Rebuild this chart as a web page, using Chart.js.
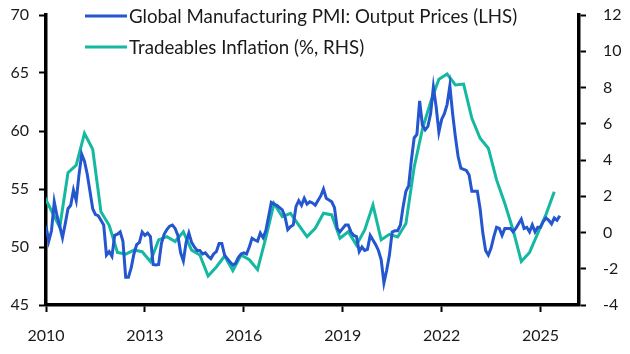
<!DOCTYPE html>
<html>
<head>
<meta charset="utf-8">
<script src="https://cdn.jsdelivr.net/npm/chart.js@4.4.1/dist/chart.umd.min.js"></script>
<style>
  html, body { margin: 0; padding: 0; background: #ffffff; }
  #wrap { width: 630px; height: 354px; position: relative; }
</style>
</head>
<body>
<div id="wrap"><canvas id="c" width="630" height="354"></canvas></div>
<script>
// ---- Data ----
const pmiLabel = "Global Manufacturing PMI: Output Prices (LHS)";
const tradeablesLabel = "Tradeables Inflation (%, RHS)";
// Monthly, starting Jan 2010
const pmiStart = 2010;
const pmiOutputPrices = [
  51.8, 50.5, 51.4, 53.9, 52.7, 51.8, 50.8, 52.0, 53.3, 53.6, 54.9, 54.0,
  56.2, 58.0, 57.4, 56.3, 54.8, 53.3, 52.8, 52.7, 52.3, 51.9, 49.3, 49.6,
  49.2, 51.0, 51.1, 51.3, 50.5, 47.4, 47.4, 48.2, 49.4, 50.2, 50.4, 51.3,
  51.0, 51.2, 50.9, 48.5, 48.45, 48.5, 50.3, 51.1, 51.5, 51.8, 51.9, 51.6,
  51.0, 49.5, 48.8, 50.4, 51.2, 50.4, 50.0, 49.7, 49.7, 49.4, 49.5, 49.2,
  49.0, 49.4, 49.6, 50.3, 50.3, 49.3, 49.0, 48.7, 48.45, 48.6, 49.1, 49.4,
  49.5, 49.4, 50.0, 50.75, 50.6, 50.5, 51.2, 50.8, 51.4, 52.6, 53.85, 53.7,
  53.6, 53.4, 53.2, 52.6, 51.5, 51.75, 51.9, 53.5, 54.0, 53.6, 54.2, 53.7,
  53.9, 53.8, 53.6, 54.0, 54.4, 55.0, 54.2, 54.05, 53.9, 53.4, 51.6, 51.3,
  51.6, 51.9, 51.9, 51.3, 51.0, 50.9, 49.6, 50.0, 49.7, 49.8, 51.0, 50.6,
  50.2, 49.7, 48.9, 46.9, 48.0, 49.3, 51.3, 51.4, 51.4, 51.9, 53.5, 54.8,
  55.3, 57.5, 59.4, 59.7, 62.6, 60.5, 60.1, 60.4, 61.5, 63.8, 62.1, 59.9,
  61.0, 61.5, 62.3, 63.9, 61.5, 59.5, 57.8, 56.8, 56.7, 56.6, 56.2, 54.8,
  54.8, 54.8, 53.3, 51.2, 49.7, 49.3, 49.9, 50.9, 51.7, 51.6, 51.0, 51.6,
  51.6, 51.6, 51.3, 51.6, 52.0, 52.4, 51.6, 51.7, 51.3, 51.9, 51.3, 51.7,
  51.7, 52.2, 52.5, 52.3, 52.0, 52.5, 52.3, 52.7
];
// Quarterly, first point at Nov 2009
const tradeablesStart = 2009 + 11 / 12;
const tradeablesInflation = [
  2.1, 1.2, 0.29, 3.3, 3.72, 5.47, 4.59, 1.15, 0.4, -1.1,
  -1.19, -0.97, -1.06, -1.6, -0.41, -0.23, -0.5, 0.04, -0.97, -1.24,
  -2.4, -1.9, -1.3, -2.1, -1.24, -1.5, -2.05, -0.3, 1.6, 0.87,
  1.06, 0.41, -0.23, 0.23, 1.06, 0.97, -0.32, 0.04, -0.69, 0.14,
  1.52, -0.4, -0.1, -0.25, 0.5, 3.6, 5.7, 7.2, 8.45, 8.74,
  8.14, 8.19, 6.3, 5.2, 4.65, 2.9, 1.6, 0.14, -1.6, -1.1,
  -0.04, 1.0, 2.25
];
const xTickYears = [2010, 2013, 2016, 2019, 2022, 2025];
const leftTicks = [45, 50, 55, 60, 65, 70];
const rightTicks = [-4, -2, 0, 2, 4, 6, 8, 10, 12];

// ---- Build points ----
const pmiPoints = pmiOutputPrices.map((v, i) => ({ x: pmiStart + i / 12, y: v }));
const tradeablesPoints = tradeablesInflation.map((v, i) => ({ x: tradeablesStart + i / 4, y: v }));

const BLUE = '#2356CF';
const TEAL = '#15B8A0';
const FONT = 'Lato, "Open Sans", sans-serif';

const legendPlugin = {
  id: 'insideLegend',
  afterDraw(chart) {
    const ctx = chart.ctx;
    const rows = [
      { y: 16, color: BLUE, text: chart.data.datasets[0].label },
      { y: 47, color: TEAL, text: chart.data.datasets[1].label }
    ];
    ctx.save();
    rows.forEach(r => {
      ctx.strokeStyle = r.color;
      ctx.lineWidth = 3;
      ctx.beginPath();
      ctx.moveTo(85, r.y);
      ctx.lineTo(127, r.y);
      ctx.stroke();
      ctx.fillStyle = '#1a1a1a';
      ctx.font = '18.7px ' + FONT;
      ctx.textBaseline = 'middle';
      ctx.textAlign = 'left';
      ctx.fillText(r.text, 129, r.y + 1);
    });
    ctx.restore();
  }
};

function fixVertical(width) {
  return s => { s.width = width; s.paddingTop = 0; s.paddingBottom = 0; };
}

new Chart(document.getElementById('c'), {
  type: 'line',
  data: {
    datasets: [
      {
        label: pmiLabel,
        data: pmiPoints,
        borderColor: BLUE,
        backgroundColor: BLUE,
        borderWidth: 3,
        pointRadius: 0,
        tension: 0,
        yAxisID: 'y',
        clip: { left: 0, top: 5, right: 5, bottom: 5 }
      },
      {
        label: tradeablesLabel,
        data: tradeablesPoints,
        borderColor: TEAL,
        backgroundColor: TEAL,
        borderWidth: 3,
        pointRadius: 0,
        tension: 0,
        yAxisID: 'y1',
        clip: { left: 0, top: 5, right: 5, bottom: 5 }
      }
    ]
  },
  options: {
    responsive: false,
    animation: false,
    devicePixelRatio: 1,
    layout: { padding: { top: 15, left: 0, right: 0, bottom: 0 } },
    plugins: { legend: { display: false }, tooltip: { enabled: false } },
    scales: {
      x: {
        type: 'linear',
        min: 2010,
        max: 2026 + 2 / 12,
        afterBuildTicks: s => { s.ticks = xTickYears.map(v => ({ value: v })); },
        afterFit: s => { s.height = 49; s.paddingLeft = 0; s.paddingRight = 0; },
        ticks: {
          color: '#1a1a1a',
          font: { family: FONT, size: 16 },
          padding: 14,
          maxRotation: 0,
          autoSkip: false,
          callback: v => String(v)
        },
        grid: { drawOnChartArea: false, drawTicks: true, tickLength: 7, tickWidth: 2, tickColor: '#000' },
        border: { display: true, color: '#000', width: 3.5 }
      },
      y: {
        position: 'left',
        min: 45,
        max: 70,
        afterBuildTicks: s => { s.ticks = leftTicks.map(v => ({ value: v })); },
        afterFit: fixVertical(46),
        ticks: { color: '#1a1a1a', font: { family: FONT, size: 16 }, padding: 10 },
        grid: { drawOnChartArea: false, drawTicks: true, tickLength: 7, tickWidth: 2, tickColor: '#000' },
        border: { display: true, color: '#000', width: 3.5 }
      },
      y1: {
        position: 'right',
        min: -4,
        max: 12,
        afterBuildTicks: s => { s.ticks = rightTicks.map(v => ({ value: v })); },
        afterFit: fixVertical(51),
        ticks: { color: '#1a1a1a', font: { family: FONT, size: 16 }, padding: 17 },
        grid: { drawOnChartArea: false, drawTicks: true, tickLength: 7, tickWidth: 2, tickColor: '#000' },
        border: { display: true, color: '#000', width: 3.5 }
      }
    }
  },
  plugins: [legendPlugin]
});
</script>
</body>
</html>
